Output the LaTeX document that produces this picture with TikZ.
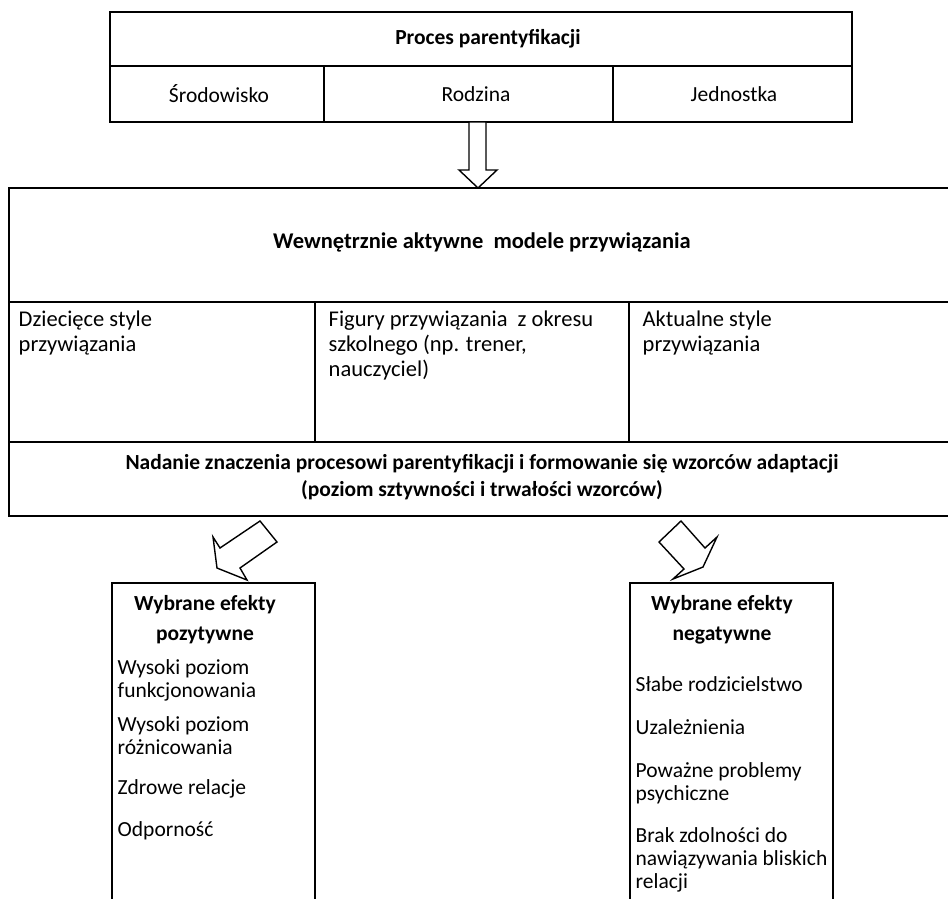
\documentclass[tikz,border=0pt]{standalone}
\usepackage{fontspec}
\setmainfont{Carlito}
\begin{document}
\begin{tikzpicture}[x=1pt,y=-1pt,line width=1.4pt,line join=miter,
  txt/.style={font=\fontsize{21.5}{23}\selectfont,inner sep=0pt,align=left,anchor=north west},
  mtxt/.style={font=\fontsize{22.5}{25}\selectfont,inner sep=0pt,align=left,anchor=north west},
  ctxt/.style={font=\fontsize{21.5}{23}\selectfont,inner sep=0pt,align=center},
  btxt/.style={font=\fontsize{21.5}{27}\selectfont\bfseries,inner sep=0pt,align=center},
  blockarrow/.style={draw,fill=white}]
\useasboundingbox (0,0) rectangle (948,899);
% top box
\draw (110,12) rectangle (852,122);
\draw (110,66) -- (852,66);
\draw (324,66) -- (324,122);
\draw (613,66) -- (613,122);
\node[btxt] (proces) at (488,39) {Proces parentyfikacji};
\node[ctxt] (srod) at (219,94) {Środowisko};
\node[ctxt] (rodz) at (476,94) {Rodzina};
\node[ctxt] (jedn) at (734,94) {Jednostka};
% down arrow
\draw[blockarrow] (469,122) -- (469,170) -- (459,170) -- (478,188) -- (497,170) -- (486,170) -- (486,122) -- cycle;
% big box
\draw (948,188) -- (9,188) -- (9,516) -- (948,516);
\draw (9,302) -- (948,302);
\draw (9,442) -- (948,442);
\draw (315,302) -- (315,442);
\draw (629,302) -- (629,442);
\node[btxt,font=\fontsize{22.5}{27}\selectfont\bfseries] (wam) at (482,242) {Wewnętrznie aktywne\ \ modele przywiązania};
\node[mtxt] (c1) at (18,310) {Dziecięce style\\przywiązania};
\node[mtxt] (c2) at (328,310) {Figury przywiązania\ \ z okresu\\szkolnego (np. trener,\\nauczyciel)};
\node[mtxt] (c3) at (642,310) {Aktualne style\\przywiązania};
\node[btxt] (nad) at (482,477) {Nadanie znaczenia procesowi parentyfikacji i formowanie się wzorców adaptacji\\(poziom sztywności i trwałości wzorców)};
% diagonal block arrows
\draw[blockarrow] (260,521) -- (277,542) -- (240,568) -- (247,580) -- (217,568) -- (213,537) -- (220,548) -- cycle;
\draw[blockarrow] (681,521) -- (705,548) -- (717,537) -- (703,567) -- (673,579) -- (684,569) -- (659,542) -- cycle;
% bottom boxes
\draw (112,905) -- (112,583) -- (315,583) -- (315,905);
\draw (630,905) -- (630,583) -- (833,583) -- (833,905);
\node[btxt,font=\fontsize{21.5}{30}\selectfont\bfseries] (pozt) at (205,620) {Wybrane efekty\\pozytywne};
\node[btxt,font=\fontsize{21.5}{30}\selectfont\bfseries] (negt) at (722,620) {Wybrane efekty\\negatywne};
\node[txt] (p1) at (117,659) {Wysoki poziom\\funkcjonowania};
\node[txt] (p2) at (117,716) {Wysoki poziom\\różnicowania};
\node[txt] (p3) at (117,779) {Zdrowe relacje};
\node[txt] (p4) at (117,821) {Odporność};
\node[txt] (n1) at (635,676) {Słabe rodzicielstwo};
\node[txt] (n2) at (635,719) {Uzależnienia};
\node[txt] (n3) at (635,762) {Poważne problemy\\psychiczne};
\node[txt] (n4) at (635,827) {Brak zdolności do\\nawiązywania bliskich\\relacji};
\end{tikzpicture}
\end{document}
